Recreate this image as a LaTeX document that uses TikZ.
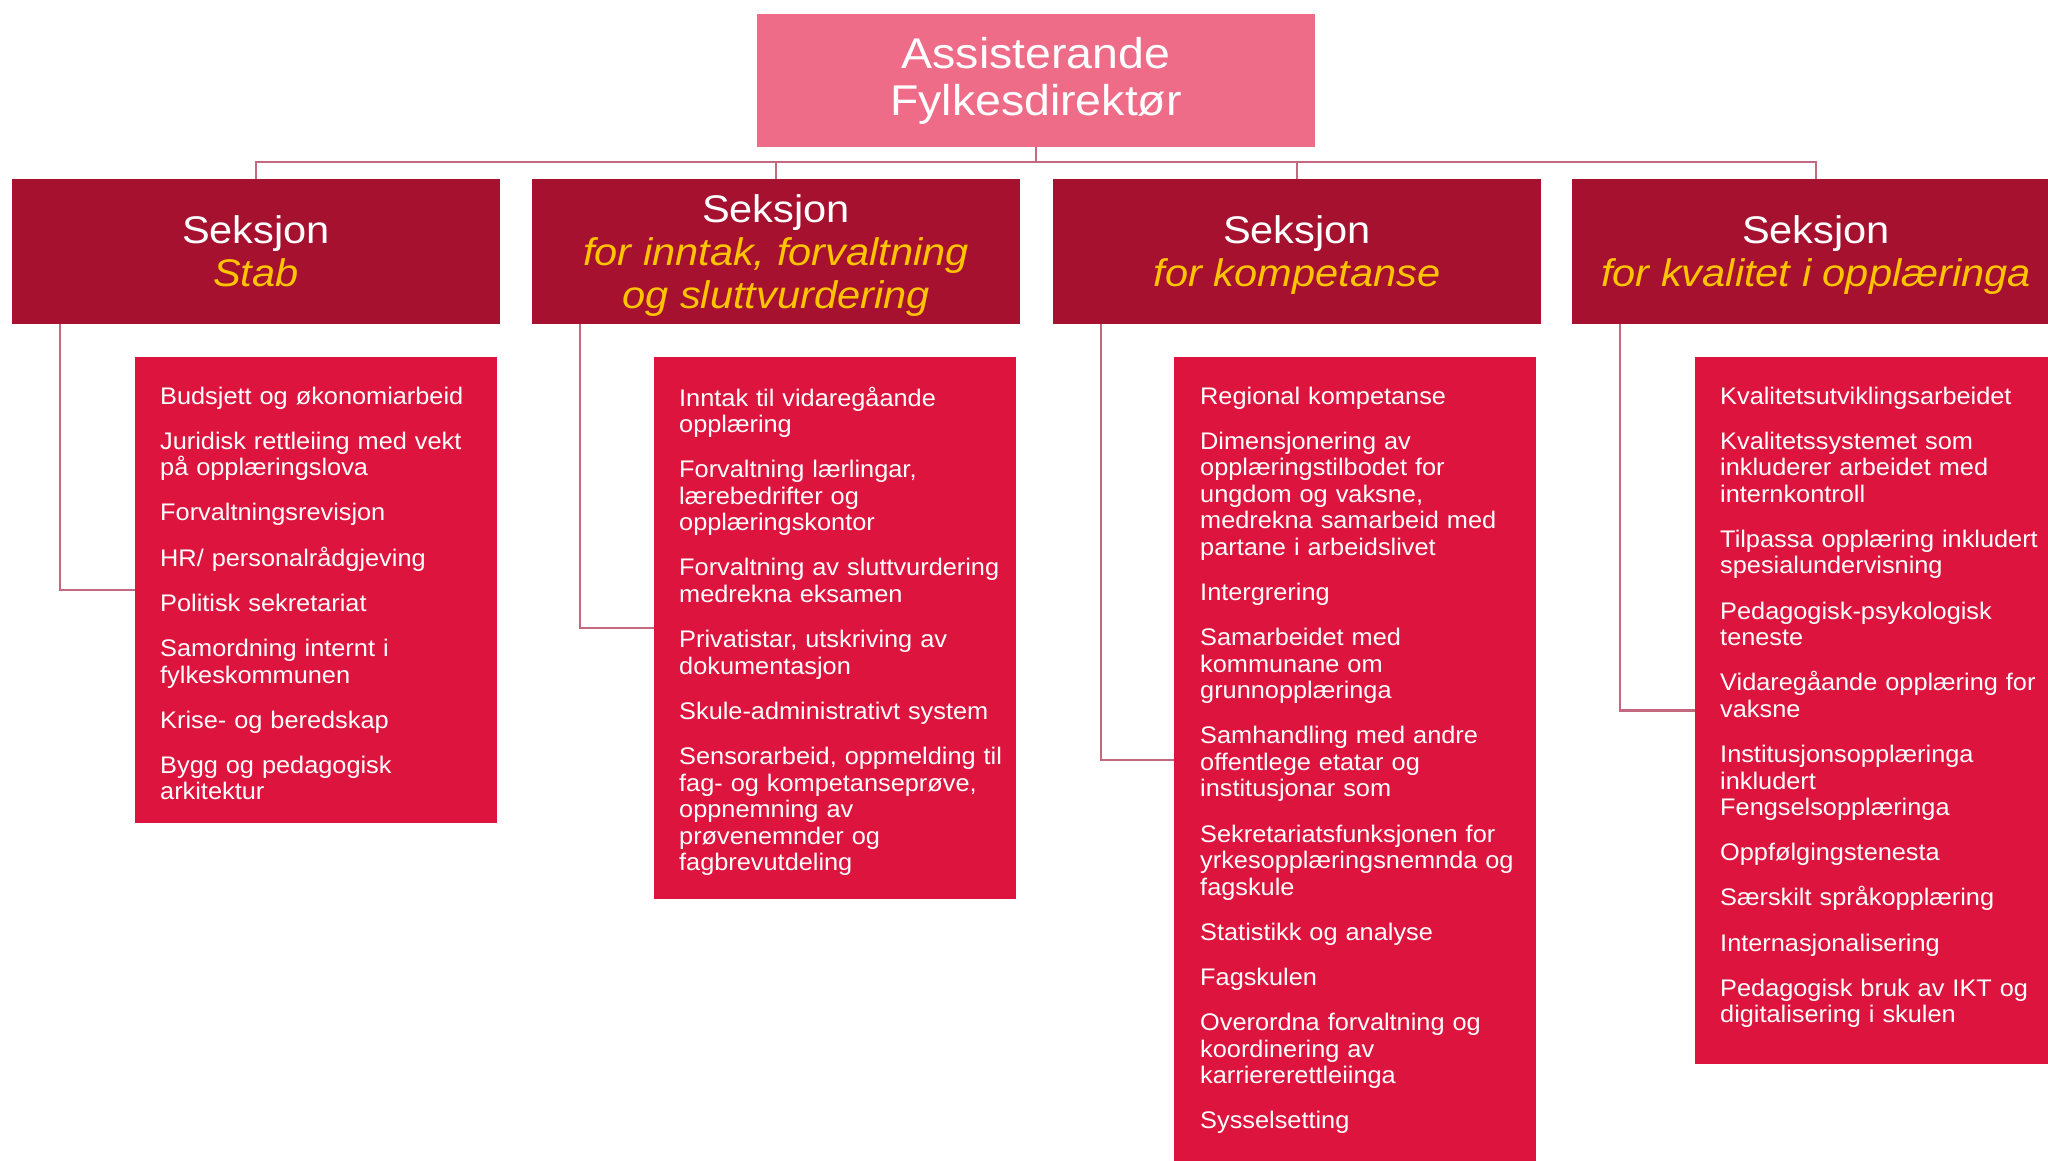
\documentclass[tikz,border=0pt]{standalone}
\usepackage{fontspec}
\setmainfont{Liberation Sans}[FakeStretch=1.08]
\newfontfamily\listfont{Liberation Sans}[FakeStretch=1.055]
\definecolor{topc}{RGB}{239,108,137}
\definecolor{secc}{RGB}{166,17,47}
\definecolor{listc}{RGB}{221,21,62}
\definecolor{linec}{RGB}{196,104,128}
\definecolor{goldc}{RGB}{255,196,0}
\newcommand{\gold}[1]{\textcolor{goldc}{\itshape #1}}
\newcommand{\itemgap}{\\[18.7pt]}
\begin{document}
\begin{tikzpicture}[x=1pt,y=-1pt,
  topbox/.style={fill=topc, minimum width=558pt, minimum height=133pt, inner sep=0pt, text=white, align=center, font=\fontsize{43}{47}\selectfont},
  secbox/.style={fill=secc, minimum width=488pt, minimum height=145pt, inner sep=0pt, text=white, align=center, text depth=0pt, font=\fontsize{38.5}{43}\selectfont},
  listbox/.style={fill=listc, minimum width=362pt, inner sep=0pt, anchor=north west},
  listtext/.style={text=white, align=left, anchor=north west, inner sep=0pt, text width=345pt, font=\listfont\fontsize{24}{26.5}\selectfont},
  conn/.style={draw=linec, line width=2.5pt}
]
\useasboundingbox[fill=white] (0,0) rectangle (2048,1160);
\clip (0,0) rectangle (2048,1160);

\node[topbox] (top) at (1036,80.5) {Assisterande\\Fylkesdirektør};

\node[secbox] (S1) at (256,251.5) {Seksjon\\\gold{Stab}};
\node[secbox] (S2) at (776,251.5) {Seksjon\\\gold{for inntak, forvaltning}\\\gold{og sluttvurdering}};
\node[secbox] (S3) at (1297,251.5) {Seksjon\\\gold{for kompetanse}};
\node[secbox] (S4) at (1816,251.5) {Seksjon\\\gold{for kvalitet i opplæringa}};

\coordinate (bus) at (0,162);
\foreach \s in {S1,S2,S3,S4}{
  \draw[conn] (top.south) -- (top.south |- bus) -| (\s.north);
}

\node[listbox, minimum height=466pt] (L1) at (135,357) {};
\node[listbox, minimum height=542pt] (L2) at (654,357) {};
\node[listbox, minimum height=806pt] (L3) at (1174,357) {};
\node[listbox, minimum height=707pt] (L4) at (1695,357) {};

\foreach \s/\l in {S1/L1,S2/L2,S3/L3,S4/L4}{
  \coordinate (d\l) at ([xshift=48pt]\s.south west);
  \draw[conn] (d\l) |- (\l.west);
}

\node[listtext] (T1) at (160,386.5) {Budsjett og økonomiarbeid\itemgap
Juridisk rettleiing med vekt\\på opplæringslova\itemgap
Forvaltningsrevisjon\itemgap
HR/ personalrådgjeving\itemgap
Politisk sekretariat\itemgap
Samordning internt i\\fylkeskommunen\itemgap
Krise- og beredskap\itemgap
Bygg og pedagogisk\\arkitektur};

\node[listtext] (T2) at (679,386.5) {Inntak til vidaregåande\\opplæring\itemgap
Forvaltning lærlingar,\\lærebedrifter og\\opplæringskontor\itemgap
Forvaltning av sluttvurdering\\medrekna eksamen\itemgap
Privatistar, utskriving av\\dokumentasjon\itemgap
Skule-administrativt system\itemgap
Sensorarbeid, oppmelding til\\fag- og kompetanseprøve,\\oppnemning av\\prøvenemnder og\\fagbrevutdeling};

\node[listtext] (T3) at (1200,386.5) {Regional kompetanse\itemgap
Dimensjonering av\\opplæringstilbodet for\\ungdom og vaksne,\\medrekna samarbeid med\\partane i arbeidslivet\itemgap
Intergrering\itemgap
Samarbeidet med\\kommunane om\\grunnopplæringa\itemgap
Samhandling med andre\\offentlege etatar og\\institusjonar som\itemgap
Sekretariatsfunksjonen for\\yrkesopplæringsnemnda og\\fagskule\itemgap
Statistikk og analyse\itemgap
Fagskulen\itemgap
Overordna forvaltning og\\koordinering av\\karriererettleiinga\itemgap
Sysselsetting};

\node[listtext] (T4) at (1720,386.5) {Kvalitetsutviklingsarbeidet\itemgap
Kvalitetssystemet som\\inkluderer arbeidet med\\internkontroll\itemgap
Tilpassa opplæring inkludert\\spesialundervisning\itemgap
Pedagogisk-psykologisk\\teneste\itemgap
Vidaregåande opplæring for\\vaksne\itemgap
Institusjonsopplæringa\\inkludert\\Fengselsopplæringa\itemgap
Oppfølgingstenesta\itemgap
Særskilt språkopplæring\itemgap
Internasjonalisering\itemgap
Pedagogisk bruk av IKT og\\digitalisering i skulen};
\end{tikzpicture}
\end{document}
